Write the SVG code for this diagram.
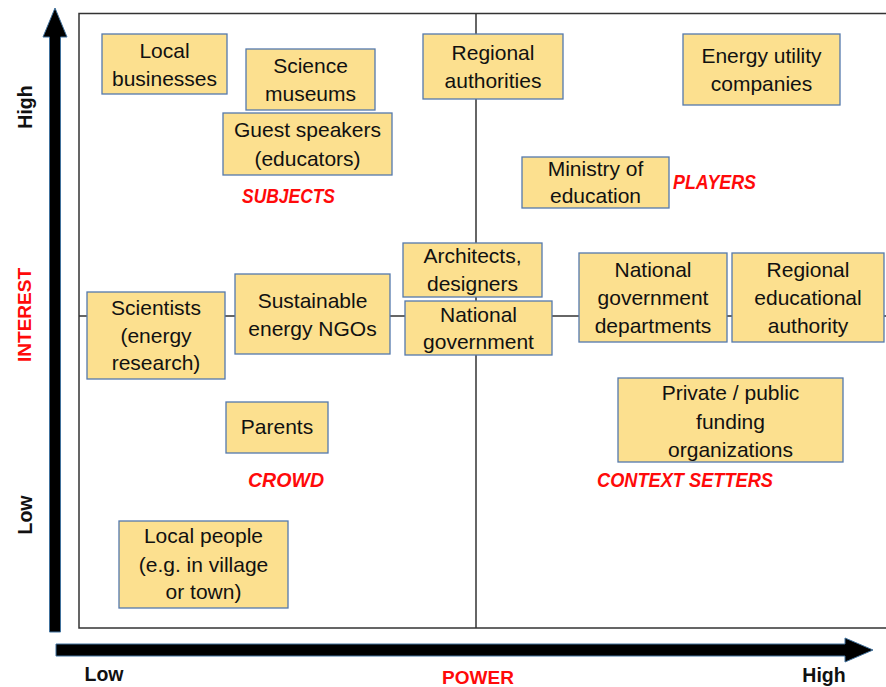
<svg xmlns="http://www.w3.org/2000/svg" width="886" height="687" viewBox="0 0 886 687">
<style>
.box{fill:#FCE08F;stroke:#5479AD;stroke-width:1.3}
.t{font-family:"Liberation Sans",Arial,sans-serif;font-size:21px;fill:#111;text-anchor:middle}
.q{font-family:"Liberation Sans",Arial,sans-serif;font-size:20px;font-weight:bold;font-style:italic;fill:#FF0A0A;text-anchor:middle}
.ax{font-family:"Liberation Sans",Arial,sans-serif;font-size:19.5px;font-weight:bold;fill:#111;text-anchor:middle}
.axr{font-family:"Liberation Sans",Arial,sans-serif;font-size:19px;font-weight:bold;fill:#FF0A0A;text-anchor:middle}
.grid{fill:none;stroke:#333;stroke-width:1.5}
.arrow{fill:#000;stroke:#41719C;stroke-width:1}
</style>
<rect width="886" height="687" fill="#fff"/>
<g id="axes">
<polygon class="arrow" points="49.5,632 49.5,37 43,37 55,8 67,37 60.5,37 60.5,632"/>
<polygon class="arrow" points="56,644 845,644 845,638 873,650 845,662 845,656 56,656"/>
<text class="ax" transform="translate(32,107) rotate(-90)">High</text>
<text class="ax" transform="translate(32,515) rotate(-90)">Low</text>
<text class="axr" transform="translate(31,315) rotate(-90)">INTEREST</text>
<text class="ax" x="104" y="681">Low</text>
<text class="axr" x="478" y="684">POWER</text>
<text class="ax" x="824" y="682">High</text>
</g>
<g id="connectors">
<rect class="grid" x="79" y="13.5" width="810" height="614.5"/>
<line class="grid" x1="476" y1="13.5" x2="476" y2="628"/>
<line class="grid" x1="79" y1="316" x2="886" y2="316"/>
</g>
<g id="n-local-businesses"><rect class="box" x="102" y="34" width="125" height="60"/><text class="t" x="164.5" y="58">Local</text><text class="t" x="164.5" y="86">businesses</text></g>
<g id="n-science-museums"><rect class="box" x="246" y="49" width="129" height="61"/><text class="t" x="310.5" y="73">Science</text><text class="t" x="310.5" y="101">museums</text></g>
<g id="n-guest-speakers"><rect class="box" x="223" y="113" width="169" height="62"/><text class="t" x="307.5" y="137">Guest speakers</text><text class="t" x="307.5" y="166">(educators)</text></g>
<g id="n-regional-authorities"><rect class="box" x="423" y="34" width="140" height="65"/><text class="t" x="493" y="60">Regional</text><text class="t" x="493" y="88">authorities</text></g>
<g id="n-energy-utility"><rect class="box" x="683" y="34" width="157" height="71"/><text class="t" x="761.5" y="63">Energy utility</text><text class="t" x="761.5" y="91">companies</text></g>
<g id="n-ministry"><rect class="box" x="522" y="157" width="147" height="51"/><text class="t" x="595.5" y="176">Ministry of</text><text class="t" x="595.5" y="203">education</text></g>
<g id="n-scientists"><rect class="box" x="87" y="292" width="138" height="87"/><text class="t" x="156" y="315">Scientists</text><text class="t" x="156" y="343">(energy</text><text class="t" x="156" y="370">research)</text></g>
<g id="n-ngos"><rect class="box" x="235" y="274" width="155" height="80"/><text class="t" x="312.5" y="308">Sustainable</text><text class="t" x="312.5" y="336">energy NGOs</text></g>
<g id="n-parents"><rect class="box" x="226" y="402" width="102" height="51"/><text class="t" x="277" y="434">Parents</text></g>
<g id="n-architects"><rect class="box" x="403" y="243" width="139" height="54"/><text class="t" x="472.5" y="263">Architects,</text><text class="t" x="472.5" y="291">designers</text></g>
<g id="n-national-government"><rect class="box" x="405" y="301" width="147" height="54"/><text class="t" x="478.5" y="322">National</text><text class="t" x="478.5" y="349">government</text></g>
<g id="n-national-departments"><rect class="box" x="579" y="253" width="148" height="89"/><text class="t" x="653" y="277">National</text><text class="t" x="653" y="305">government</text><text class="t" x="653" y="333">departments</text></g>
<g id="n-regional-educational"><rect class="box" x="732" y="253" width="152" height="89"/><text class="t" x="808" y="277">Regional</text><text class="t" x="808" y="305">educational</text><text class="t" x="808" y="333">authority</text></g>
<g id="n-funding"><rect class="box" x="618" y="378" width="225" height="84"/><text class="t" x="730.5" y="400">Private / public</text><text class="t" x="730.5" y="429">funding</text><text class="t" x="730.5" y="457">organizations</text></g>
<g id="n-local-people"><rect class="box" x="119" y="521" width="169" height="87"/><text class="t" x="203.5" y="543">Local people</text><text class="t" x="203.5" y="572">(e.g. in village</text><text class="t" x="203.5" y="599">or town)</text></g>
<g id="quadrant-labels">
<text class="q" x="288.5" y="203" textLength="93" lengthAdjust="spacingAndGlyphs">SUBJECTS</text>
<text class="q" x="714.5" y="189" textLength="83" lengthAdjust="spacingAndGlyphs">PLAYERS</text>
<text class="q" x="286" y="487" textLength="76" lengthAdjust="spacingAndGlyphs">CROWD</text>
<text class="q" x="685" y="487" textLength="176" lengthAdjust="spacingAndGlyphs">CONTEXT SETTERS</text>
</g>
</svg>
